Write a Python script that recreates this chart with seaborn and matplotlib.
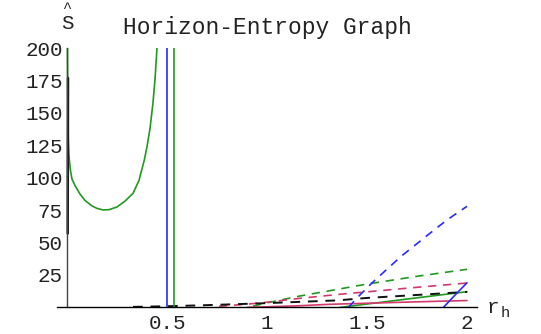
import matplotlib

matplotlib.use("Agg")
import matplotlib.pyplot as plt
import pandas as pd
import seaborn as sns
from matplotlib.ticker import MultipleLocator, FixedLocator


# values (r_h, S-hat)
green_left_x = [0.002, 0.003, 0.0045, 0.0065, 0.009, 0.012, 0.018, 0.025, 0.04, 0.065, 0.09, 0.125,
                0.15, 0.18, 0.21, 0.25, 0.29, 0.33, 0.36, 0.387, 0.40, 0.415, 0.43, 0.44, 0.45, 0.455]
green_left_y = [205, 180, 155, 130, 120, 113, 105, 99, 94, 87.5, 82.5, 78.3,
                76.4, 75.2, 75.4, 77.5, 82, 88, 98, 114, 124, 138, 158, 176, 200, 212]
green_right_x = [1.365, 1.5, 1.75, 2.0]
green_right_y = [0.0, 2.6, 7.4, 12.1]
green_dash_x = [0.93, 1.0, 1.165, 1.34, 1.5, 1.75, 2.0]
green_dash_y = [1.0, 3.5, 8.8, 13.6, 18.0, 24.0, 29.4]

red_x = [0.9, 1.0, 1.15, 1.315, 1.5, 1.75, 2.0]
red_y = [0.0, 0.5, 1.2, 2.4, 3.2, 4.3, 5.3]
red_dash_x = [0.76, 0.9, 1.0, 1.165, 1.375, 1.5, 1.75, 2.0]
red_dash_y = [0.8, 2.5, 4.0, 7.0, 10.3, 12.0, 15.5, 18.8]

black_x = [0.0035, 0.0042, 0.005]
black_y = [57, 120, 177]
black_dash_x = [0.33, 0.5, 0.67, 0.85, 1.0, 1.35, 1.5, 1.75, 2.0]
black_dash_y = [0.4, 0.9, 1.6, 2.5, 3.3, 5.4, 7.3, 9.6, 12.0]

blue_x = [1.882, 1.94, 2.0]
blue_y = [0.0, 9.5, 19.0]
blue_dash_x = [1.407, 1.45, 1.523, 1.6, 1.673, 1.805, 1.9, 2.0]
blue_dash_y = [0.0, 7.3, 18.6, 29.5, 39.7, 56.0, 67.5, 78.0]

# asymptote artefacts drawn as vertical lines
asymptotes = {"blue": 0.5, "green": 0.533}

x_ticks = [0.5, 1.0, 1.5, 2.0]
x_tick_labels = ["0.5", "1", "1.5", "2"]
y_ticks = [25, 50, 75, 100, 125, 150, 175, 200]

green = "#1f9a1f"
blue = "#2a2aff"
red = "#d2386a"
black = "#111111"

sns.set_style("white")
plt.rcParams["font.family"] = ["Liberation Mono", "DejaVu Sans Mono"]

fig = plt.figure(figsize=(5.41, 3.34), dpi=100)
ax = fig.add_axes([57 / 541, 26.6 / 334, 420 / 541, 259.2 / 334])

series = [
    (green_left_x, green_left_y, green, "-", 1.2),
    (green_right_x, green_right_y, green, "-", 1.2),
    (green_dash_x, green_dash_y, green, (0, (5, 4)), 1.2),
    (red_x, red_y, red, "-", 1.2),
    (red_dash_x, red_dash_y, red, (0, (5, 4)), 1.2),
    (black_x, black_y, black, "-", 1.8),
    (black_dash_x, black_dash_y, black, (0, (5, 4)), 1.4),
    (blue_x, blue_y, blue, "-", 1.2),
    (blue_dash_x, blue_dash_y, blue, (0, (5, 4)), 1.2),
]
for xs, ys, col, ls, lw in series:
    df = pd.DataFrame({"r": xs, "S": ys})
    sns.lineplot(data=df, x="r", y="S", ax=ax, color=col, linestyle=ls,
                 linewidth=lw, sort=False, estimator=None)

ax.axvline(asymptotes["blue"], color=blue, lw=1.2)
ax.axvline(asymptotes["green"], color=green, lw=1.2)

ax.set_xlim(-0.05, 2.05)
ax.set_ylim(0, 200)
ax.set_xlabel("")
ax.set_ylabel("")

for side in ["top", "right"]:
    ax.spines[side].set_visible(False)
ax.spines["left"].set_position(("data", 0))
ax.spines["left"].set_color("#444444")
ax.spines["left"].set_linewidth(1.0)
ax.spines["bottom"].set_color("black")
ax.spines["bottom"].set_linewidth(1.0)

ax.xaxis.set_major_locator(FixedLocator(x_ticks))
ax.set_xticklabels(x_tick_labels)
ax.xaxis.set_minor_locator(MultipleLocator(0.1))
ax.yaxis.set_major_locator(FixedLocator(y_ticks))
ax.yaxis.set_minor_locator(MultipleLocator(5))
ax.tick_params(axis="both", which="major", direction="in", length=4, width=0.8,
               color="#444444", labelsize=15, labelcolor="#222222")
ax.tick_params(axis="both", which="minor", direction="in", length=2.2, width=0.6,
               color="#666666")
ax.tick_params(axis="x", which="major", pad=5)
ax.tick_params(axis="y", which="major", pad=3)

ax.set_title("Horizon-Entropy Graph", fontsize=16.5, color="#222222", pad=10)

ax.text(0, 1.095, "S", transform=ax.get_xaxis_transform(), ha="center", va="center",
        fontsize=15, color="#222222")
ax.text(0, 1.155, "^", transform=ax.get_xaxis_transform(), ha="center", va="center",
        fontsize=11, color="#222222")
ax.text(2.13, 0, "r", transform=ax.get_xaxis_transform(), ha="center", va="center",
        fontsize=15, color="#222222")
ax.text(2.19, -0.022, "h", transform=ax.get_xaxis_transform(), ha="center", va="center",
        fontsize=11, color="#222222")

fig.savefig("out.png", dpi=100)
